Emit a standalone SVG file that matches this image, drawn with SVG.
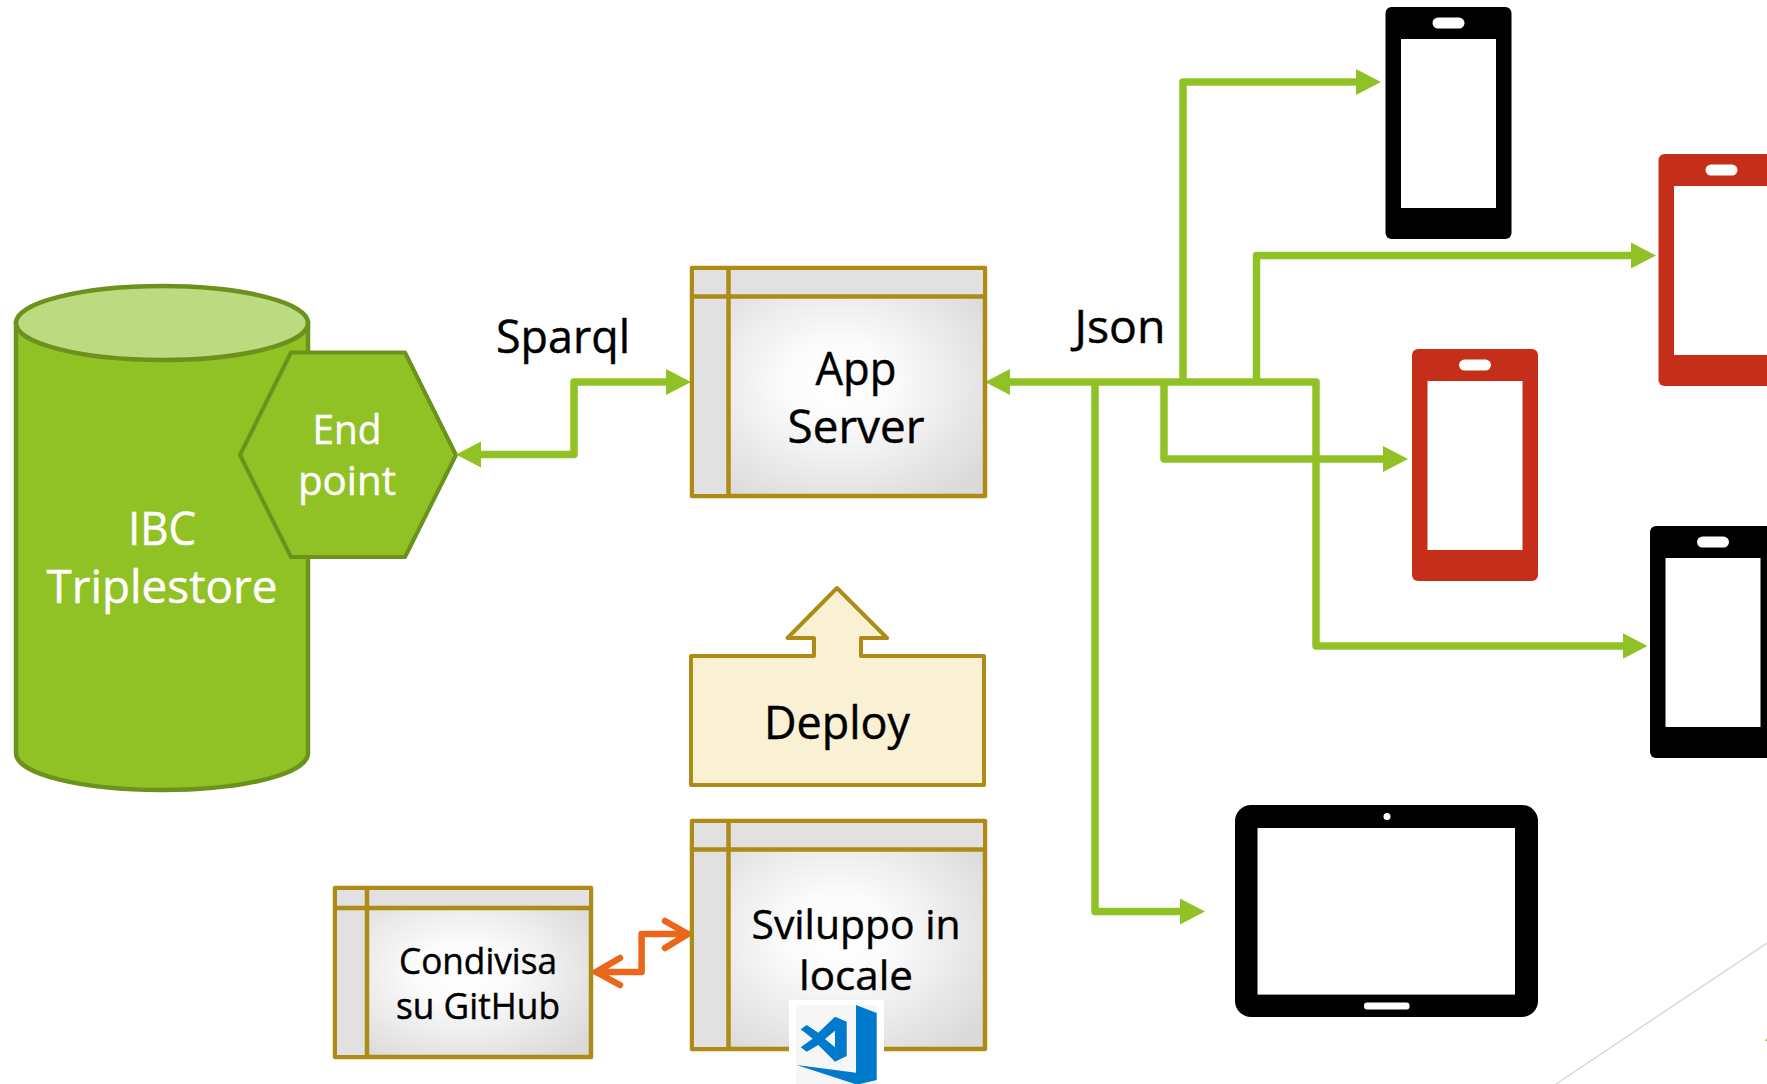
<svg xmlns="http://www.w3.org/2000/svg" width="1767" height="1084" viewBox="0 0 1767 1084">
<defs>
<radialGradient id="g" cx="50%" cy="50%" r="62%"><stop offset="0" stop-color="#fff"/><stop offset="0.3" stop-color="#fbfbfb"/><stop offset="1" stop-color="#dadada"/></radialGradient>
<marker id="ah" markerUnits="userSpaceOnUse" markerWidth="26" markerHeight="28" refX="5" refY="14" orient="auto-start-reverse"><path d="M0 1L25 14L0 27z" fill="#90c226"/></marker>
<g id="phone"><rect width="126" height="232" rx="6"/><rect x="15.500" y="32" width="95" height="169" fill="#fff"/><rect x="47" y="10.600" width="32" height="11" rx="5.500" fill="#fff"/></g>
</defs>
<style>
text{font-family:"Open Sans","Noto Sans",sans-serif;text-anchor:middle;fill:#000;stroke:#000;stroke-width:.45}
.w{fill:#fff;stroke:#fff}
.c{fill:none;stroke:#90c226;stroke-width:7.500;stroke-linejoin:round}
.b{fill:url(#g);stroke:#ae8a17;stroke-width:4.500;stroke-linejoin:round}
.p{fill:#e1e1e1;stroke:none}
.l{fill:none;stroke:#ae8a17;stroke-width:4.500}
.cy{stroke:#6c911c;stroke-width:4.500}
</style>
<rect width="1767" height="1084" fill="#fff"/>
<line x1="1556" y1="1084" x2="1767" y2="943" stroke="#d9d9d9" stroke-width="1.500"/>
<path d="M1765 1041L1767 1038V1041z" fill="#90c226"/>
<g id="triplestore">
<path class="cy" fill="#90c226" d="M16 323V753C16 774 81 790 162 790S308 774 308 753V323z"/>
<ellipse class="cy" cx="162" cy="323" rx="146" ry="37" fill="#bcda80"/>
<text class="w" x="162" y="545" font-size="45" textLength="68" lengthAdjust="spacingAndGlyphs">IBC</text>
<text class="w" x="162" y="602.500" font-size="45" textLength="231" lengthAdjust="spacingAndGlyphs">Triplestore</text>
</g>
<g id="endpoint">
<path d="M240 455L291 352.500H405L456 455L405 557H291z" fill="#90c226" stroke="#6c911c" stroke-width="4" stroke-linejoin="round"/>
<text class="w" x="347" y="444" font-size="40" textLength="69" lengthAdjust="spacingAndGlyphs">End</text>
<text class="w" x="347" y="495" font-size="40" textLength="98" lengthAdjust="spacingAndGlyphs">point</text>
</g>
<g id="connectors">
<path class="c" marker-start="url(#ah)" marker-end="url(#ah)" d="M476 454.500H574V382H671"/>
<path class="c" marker-start="url(#ah)" d="M1005 382H1316V646H1627.500" marker-end="url(#ah)"/>
<path class="c" marker-end="url(#ah)" d="M1183 382V82H1361"/>
<path class="c" marker-end="url(#ah)" d="M1256.500 382V255.500H1636"/>
<path class="c" marker-end="url(#ah)" d="M1164 382V459H1388"/>
<path class="c" marker-end="url(#ah)" d="M1095 382V911.500H1185"/>
<path d="M596 972H641.600V934H688M620 958L596 972L620 985M665 921L688 934L665 948" fill="none" stroke="#e9661a" stroke-width="6.500" stroke-linecap="round" stroke-linejoin="round"/>
</g>
<g id="app-server">
<rect class="b" x="692" y="268" width="293" height="228"/>
<path class="p" d="M694 270H983V296H730V494H694z"/>
<path class="l" d="M692 296.500H985M728.500 268V496"/>
<text x="856" y="385" font-size="45" textLength="81" lengthAdjust="spacingAndGlyphs">App</text>
<text x="856" y="443" font-size="45" textLength="137" lengthAdjust="spacingAndGlyphs">Server</text>
</g>
<g id="deploy">
<path d="M691 656H814V638H787.500L837 588L887 638H861V656H984V785H691z" fill="#faf1d4" stroke="#ae8a17" stroke-width="4" stroke-linejoin="round"/>
<text x="837" y="739" font-size="45" textLength="146" lengthAdjust="spacingAndGlyphs">Deploy</text>
</g>
<g id="sviluppo">
<rect class="b" x="692" y="821" width="293" height="228"/>
<path class="p" d="M694 823H983V849H730V1047H694z"/>
<path class="l" d="M692 849.500H985M728.500 821V1049"/>
<text x="856" y="939" font-size="41" textLength="209" lengthAdjust="spacingAndGlyphs">Sviluppo in</text>
<text x="856" y="990" font-size="41" textLength="114" lengthAdjust="spacingAndGlyphs">locale</text>
</g>
<g id="condivisa">
<rect class="b" x="335" y="888" width="256" height="169"/>
<path class="p" d="M337 890H589V908H369V1055H337z"/>
<path class="l" d="M335 908H591M367 888V1057"/>
<text x="478" y="974" font-size="37" textLength="158" lengthAdjust="spacingAndGlyphs">Condivisa</text>
<text x="478" y="1019" font-size="37" textLength="164" lengthAdjust="spacingAndGlyphs">su GitHub</text>
</g>
<g id="vscode">
<rect x="789" y="1000" width="95" height="84" fill="#fff"/>
<rect x="796" y="1005" width="81" height="79" fill="#f6f6f6"/>
<path d="M856 1005L876.700 1013V1080L860 1084H855L796.700 1065L856 1072.700z" fill="#007acc"/>
<path fill-rule="evenodd" d="M835 1016.700L846.700 1021.700V1056L835 1061.700L818.300 1045L806.700 1051.700L800.700 1047.300L812.700 1038.700L800.700 1029.300L806.700 1025L818.300 1032.700zM835 1030.700L825 1039L835 1047.300z" fill="#007acc"/>
</g>
<g id="sparql"><text x="563" y="352.500" font-size="46" textLength="134" lengthAdjust="spacingAndGlyphs">Sparql</text></g>
<g id="json"><text x="1120" y="342.500" font-size="46" textLength="91" lengthAdjust="spacingAndGlyphs">Json</text></g>
<g id="phone-1"><use href="#phone" x="1385.500" y="7"/></g>
<g id="phone-2"><use href="#phone" x="1658.500" y="154" fill="#c52e18"/></g>
<g id="phone-3"><use href="#phone" x="1412" y="349" fill="#c52e18"/></g>
<g id="phone-4"><use href="#phone" x="1650" y="526"/></g>
<g id="tablet">
<rect x="1235" y="805" width="303" height="212" rx="16"/>
<rect x="1257.500" y="828" width="257.500" height="166.600" fill="#fff"/>
<circle cx="1387" cy="816.500" r="3.500" fill="#fff"/>
<rect x="1364" y="1002.400" width="45.500" height="7" rx="3" fill="#fff"/>
</g>
</svg>
